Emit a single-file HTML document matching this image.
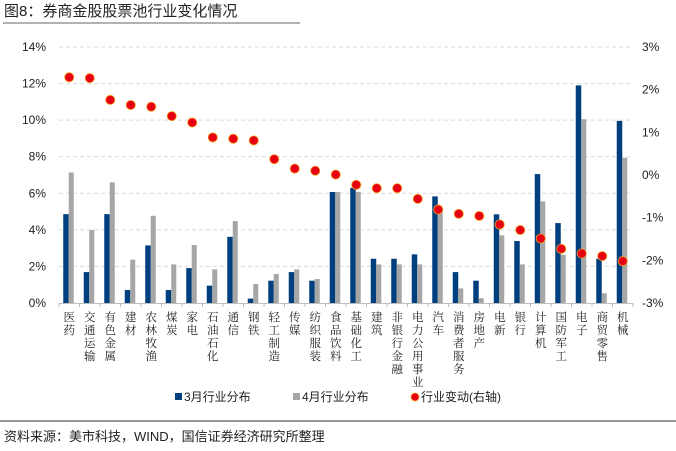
<!DOCTYPE html>
<html><head><meta charset="utf-8"><style>
body{margin:0;background:#fff;width:676px;height:446px;overflow:hidden;font-family:"Liberation Sans","Noto Sans CJK SC",sans-serif;}
</style></head><body>
<svg id="c" width="676" height="446" xmlns="http://www.w3.org/2000/svg" style="font-family:'Liberation Sans','Noto Sans CJK SC',sans-serif">
<text x="4" y="16" font-size="15" fill="#222">图8：券商金股股票池行业变化情况</text>
<line x1="3" y1="23" x2="300" y2="23" stroke="#666" stroke-width="1"/>
<g id="grid"></g><g id="bars"></g><g id="dots"></g><g id="axes"></g>
<g>
<rect x="175" y="393" width="7" height="7" fill="#003F7D"/>
<text x="184" y="401" font-size="12" fill="#222">3月行业分布</text>
<rect x="293" y="393" width="7" height="7" fill="#A6A6A6"/>
<text x="302" y="401" font-size="12" fill="#222">4月行业分布</text>
<circle cx="415" cy="397" r="4" fill="#E60012" stroke="#F5A623" stroke-width="0.8"/>
<text x="421" y="401" font-size="12" fill="#222">行业变动(右轴)</text>
</g>
<line x1="0" y1="421" x2="676" y2="421" stroke="#999" stroke-width="2"/>
<text x="4" y="441" font-size="13" fill="#222">资料来源：美市科技，WIND，国信证券经济研究所整理</text>
</svg>
<script>
const categories=["医药","交通运输","有色金属","建材","农林牧渔","煤炭","家电","石油石化","通信","钢铁","轻工制造","传媒","纺织服装","食品饮料","基础化工","建筑","非银行金融","电力公用事业","汽车","消费者服务","房地产","电新","银行","计算机","国防军工","电子","商贸零售","机械"];
const march=[4.86,1.69,4.86,0.71,3.15,0.71,1.91,0.95,3.62,0.24,1.22,1.69,1.22,6.07,6.3,2.42,2.42,2.66,5.83,1.69,1.22,4.85,3.39,7.05,4.37,11.9,2.42,9.96];
const april=[7.14,3.99,6.6,2.37,4.77,2.11,3.17,1.84,4.48,1.04,1.58,1.84,1.31,6.07,6.08,2.11,2.11,2.11,5.01,0.8,0.26,3.7,2.11,5.56,2.64,10.05,0.53,7.94];
const change=[2.29,2.27,1.76,1.64,1.6,1.38,1.23,0.88,0.85,0.81,0.37,0.15,0.1,0.01,-0.23,-0.31,-0.31,-0.56,-0.81,-0.91,-0.96,-1.16,-1.29,-1.49,-1.73,-1.84,-1.9,-2.02];
const leftTicks=[0,2,4,6,8,10,12,14];
const rightTicks=[-3,-2,-1,0,1,2,3];
const NS="http://www.w3.org/2000/svg";
const X0=59,X1=633,YT=47,YB=303;
const bw=(X1-X0)/categories.length;
const yL=v=>YB-(v/14)*(YB-YT);
const yR=v=>YB-((v+3)/6)*(YB-YT);
const xC=i=>X0+bw*(i+0.5);
function mk(tag,attrs,parent,txt){const e=document.createElementNS(NS,tag);for(const k in attrs)e.setAttribute(k,attrs[k]);if(txt!==undefined)e.textContent=txt;document.getElementById(parent).appendChild(e);return e;}
leftTicks.forEach(t=>{
  if(t>0){const g=mk('line',{x1:X0,x2:X1,y1:yL(t),y2:yL(t),stroke:'#d9d9d9','stroke-dasharray':'4,3'},'grid');
  
  }
  const l=mk('text',{x:46,y:yL(t)+4,'font-size':12,'text-anchor':'end',fill:'#222'},'axes',t+'%');
  
  
});
rightTicks.forEach(t=>{
  const l=mk('text',{x:642,y:yR(t)+4,'font-size':12,fill:'#222'},'axes',t+'%');
  
  
});
const ax=mk('line',{x1:X0,x2:X1,y1:YB+0.5,y2:YB+0.5,stroke:'#bfbfbf'},'axes');


for(let i=0;i<=categories.length;i++){
  const tk=mk('line',{x1:X0+bw*i,x2:X0+bw*i,y1:YB,y2:YB+4,stroke:'#bfbfbf'},'axes');
  
  
}
categories.forEach((c,i)=>{
  const cx=xC(i);
  const b=mk('rect',{x:cx-6,y:yL(march[i]),width:5.5,height:YB-yL(march[i]),fill:'#003F7D'},'bars');
  
  
  const g=mk('rect',{x:cx-0.5,y:yL(april[i]),width:5,height:YB-yL(april[i]),fill:'#A6A6A6'},'bars');
  
  
  const d=mk('circle',{cx:cx,cy:yR(change[i]),r:4.6,fill:'#E60012',stroke:'#F5A623','stroke-width':0.8},'dots');
  
  
  const t=mk('text',{x:cx,y:311,'font-size':11.5,fill:'#222','letter-spacing':'1.5',style:"writing-mode:vertical-rl;font-family:'Noto Serif CJK SC',serif"},'axes',c);
  
  
});
</script>
</body></html>
